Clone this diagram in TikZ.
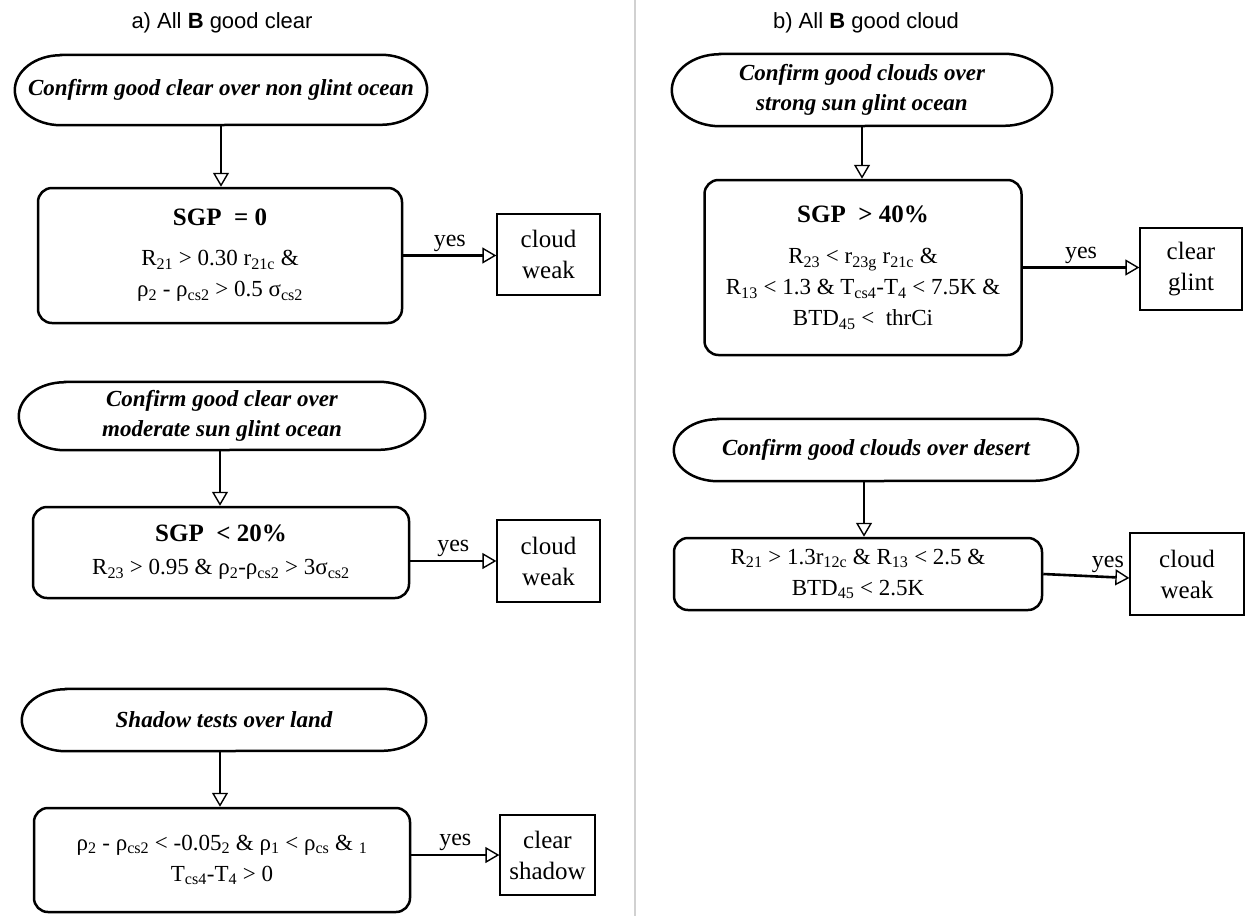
\documentclass[tikz,border=0pt]{standalone}
\usepackage{fontspec}
\setmainfont{Liberation Serif}
\newfontfamily\titlefont{Liberation Sans}
\usetikzlibrary{arrows.meta,calc}
\newcommand{\sbs}[1]{\textsubscript{#1}}
% stadium outline around a named node: name, half-height, end x-radius
\newcommand{\stadiumline}[3]{%
  \draw[bord] ($(#1.north west)+(#3pt,0)$) -- ($(#1.north east)+(-#3pt,0)$)
    arc[start angle=90,end angle=-90,x radius=#3pt,y radius=#2pt]
    -- ($(#1.south west)+(#3pt,0)$)
    arc[start angle=270,end angle=90,x radius=#3pt,y radius=#2pt] -- cycle;}
\begin{document}
\begin{tikzpicture}[x=1pt,y=-1pt,
  bord/.style={line width=2.5pt},
  cond/.style={draw,line width=2.5pt,rounded corners=14pt,align=center,inner sep=0pt,
    font=\fontsize{23}{31}\selectfont},
  res/.style={draw,line width=1.3pt,align=center,inner sep=0pt,
    font=\fontsize{25}{31}\selectfont},
  start/.style={align=center,inner sep=0pt,
    font=\fontsize{23}{30}\selectfont\bfseries\itshape},
  ttl/.style={font=\titlefont\fontsize{22}{26}\selectfont},
  flow/.style={line width=2.6pt,-{Triangle[open,length=14pt,width=16pt,line width=1.4pt]}},
  yeslbl/.style={font=\fontsize{24}{28}\selectfont,inner sep=3pt}
]
\useasboundingbox (0,0) rectangle (1246,916);
% divider
\coordinate (dtop) at (635,0);
\coordinate (dbot) at (635,916);
\draw[line width=1.2pt,black!18] (dtop) -- (dbot);

% titles
\node[ttl] (ta) at (222,23) {a) All \textbf{B} good clear};
\node[ttl] (tb) at (866,23) {b) All \textbf{B} good cloud};

% ---------- left column ----------
\node[start,minimum width=412pt,minimum height=70pt] (e1) at (221,90)
  {Confirm good clear over non glint ocean};
\stadiumline{e1}{35}{46}
\node[cond,minimum width=364pt,minimum height=135pt] (b1) at (220,255.5)
  {\textbf{\fontsize{25}{30}\selectfont SGP\ \ = 0}\\[9pt]
   R\sbs{21} > 0.30 r\sbs{21c} \&\\
   ρ\sbs{2} - ρ\sbs{cs2} > 0.5 σ\sbs{cs2}};
\node[res,minimum width=103pt,minimum height=81pt] (c1) at (548.5,254.5) {cloud\\weak};
\draw[flow] (e1.south) -- (e1.south |- b1.north);
\draw[flow] (b1.east) -- node[yeslbl,above] {yes} (b1.east -| c1.west);

\node[start,minimum width=406pt,minimum height=68pt] (e2) at (222,416)
  {Confirm good clear over\\moderate sun glint ocean};
\stadiumline{e2}{34}{46}
\node[cond,minimum width=376pt,minimum height=91pt] (b2) at (221,552.5)
  {\textbf{\fontsize{25}{30}\selectfont SGP\ \ < 20\%}\\[2pt]
   R\sbs{23} > 0.95 \& ρ\sbs{2}-ρ\sbs{cs2} > 3σ\sbs{cs2}};
\node[res,minimum width=103pt,minimum height=82pt] (c2) at (548.5,561) {cloud\\weak};
\draw[flow] ([xshift=-2pt]e2.south) -- ([xshift=-2pt]e2.south |- b2.north);
\draw[flow] (c2.west -| b2.east) -- node[yeslbl,above] {yes} (c2.west);

\node[start,minimum width=404pt,minimum height=62pt] (e3) at (224,720)
  {Shadow tests over land};
\stadiumline{e3}{31}{44}
\node[cond,minimum width=376pt,minimum height=104pt] (b3) at (222,860)
  {ρ\sbs{2} - ρ\sbs{cs2} < -0.05\sbs{2} \& ρ\sbs{1} < ρ\sbs{cs} \& \sbs{1}\\
   T\sbs{cs4}-T\sbs{4} > 0};
\node[res,minimum width=95pt,minimum height=80pt] (c3) at (547.5,855) {clear\\shadow};
\draw[flow] ([xshift=-4pt]e3.south) -- ([xshift=-4pt]e3.south |- b3.north);
\draw[flow] (c3.west -| b3.east) -- node[yeslbl,above] {yes} (c3.west);

% ---------- right column ----------
\node[start,minimum width=380pt,minimum height=72pt] (e4) at (862,90)
  {Confirm good clouds over\\strong sun glint ocean};
\stadiumline{e4}{36}{48}
\node[cond,minimum width=317pt,minimum height=175pt] (b4) at (863,267.5)
  {\textbf{\fontsize{25}{30}\selectfont SGP\ \ > 40\%}\\[10pt]
   R\sbs{23} < r\sbs{23g} r\sbs{21c} \&\\
   R\sbs{13} < 1.3 \& T\sbs{cs4}-T\sbs{4} < 7.5K \&\\
   BTD\sbs{45} <\ \ thrCi};
\node[res,minimum width=102pt,minimum height=82pt] (c4) at (1191,269) {clear\\glint};
\draw[flow] (e4.south) -- (e4.south |- b4.north);
\draw[flow] (b4.east) -- node[yeslbl,above] {yes} (b4.east -| c4.west);

\node[start,minimum width=404pt,minimum height=62pt] (e5) at (876,450)
  {Confirm good clouds over desert};
\stadiumline{e5}{31}{44}
\node[cond,minimum width=368pt,minimum height=72pt] (b5) at (858,574)
  {R\sbs{21} > 1.3r\sbs{12c} \& R\sbs{13} < 2.5 \&\\
   BTD\sbs{45} < 2.5K};
\node[res,minimum width=114pt,minimum height=82pt] (c5) at (1187,574) {cloud\\weak};
\draw[flow] ([xshift=-12pt]e5.south) -- ([xshift=-12pt]e5.south |- b5.north);
\draw[flow] (b5.east) -- node[yeslbl,above,pos=0.75] {yes} ([yshift=-4pt]c5.west);
\end{tikzpicture}
\end{document}
